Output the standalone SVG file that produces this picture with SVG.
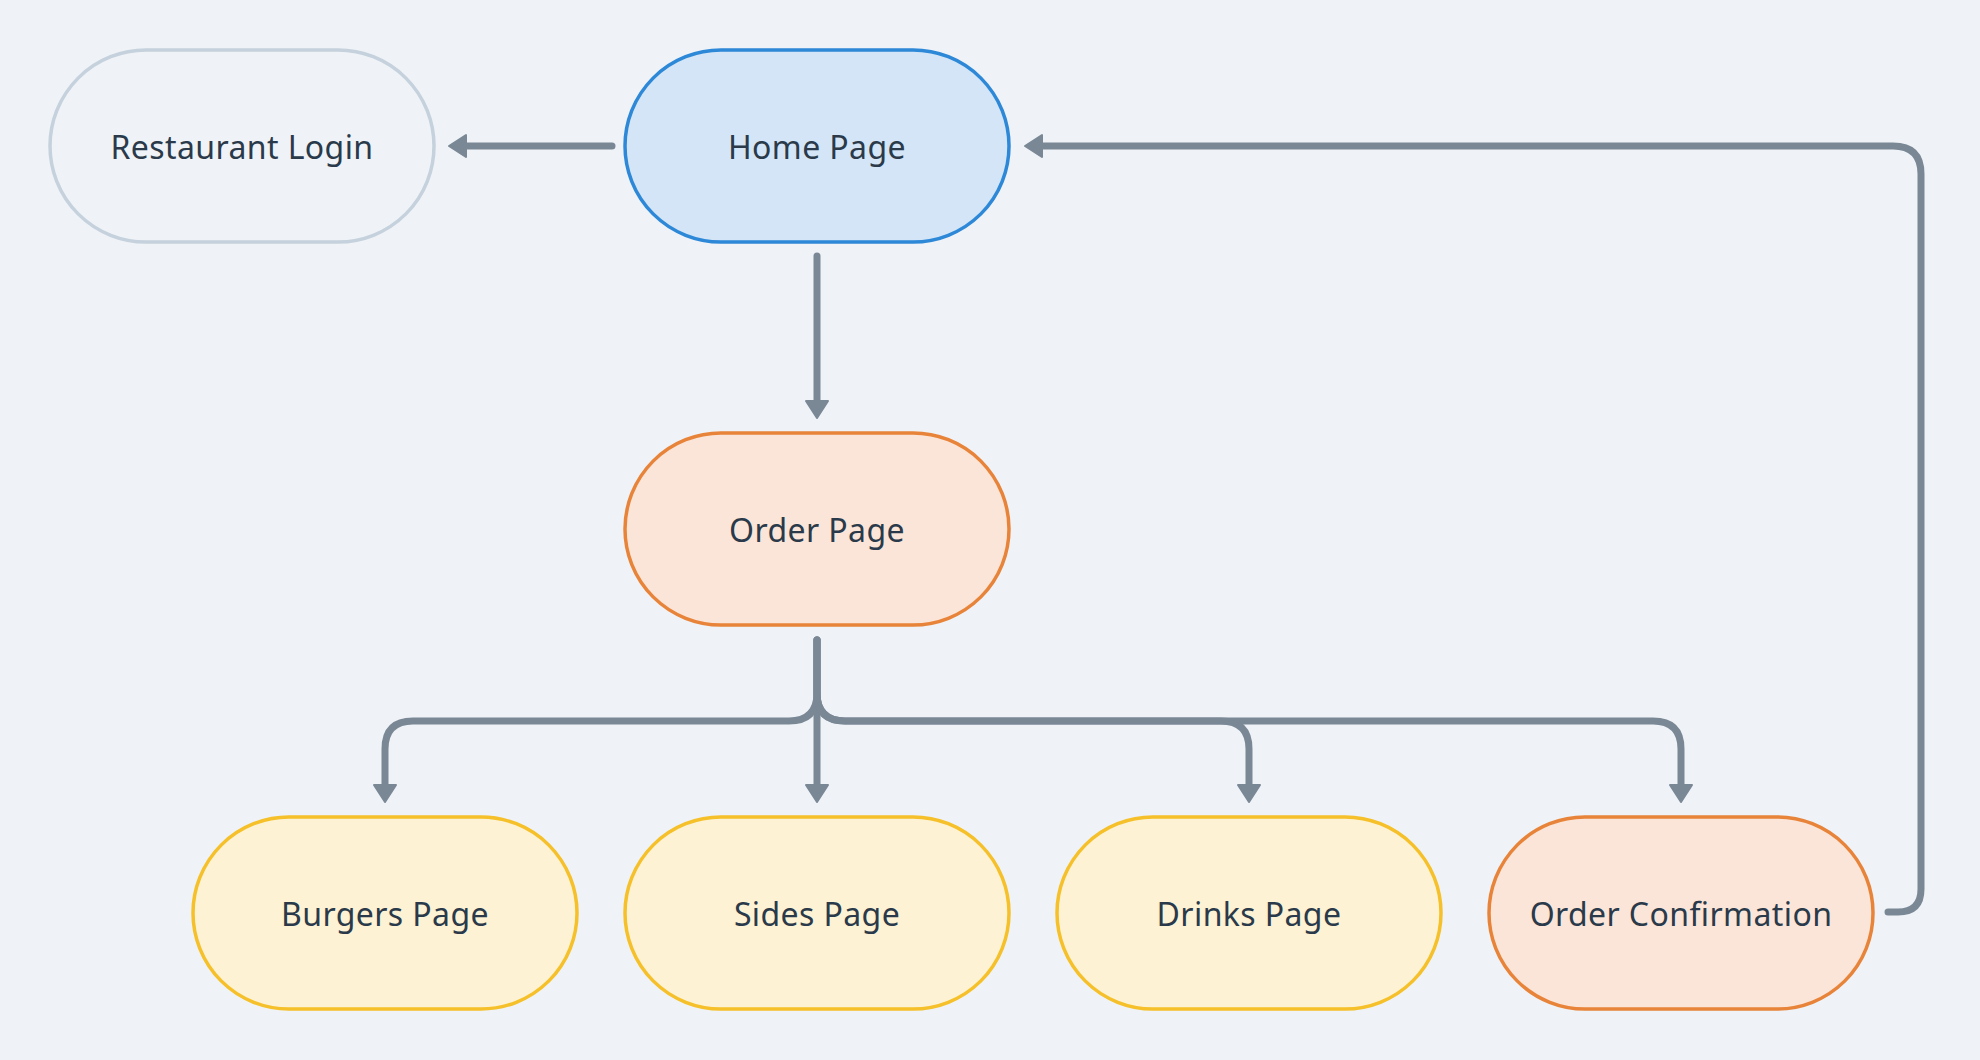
<svg xmlns="http://www.w3.org/2000/svg" width="1980" height="1060" viewBox="0 0 1980 1060">
<style>
.node rect{stroke-width:3.5}
.node text{font-family:"Noto Sans","Liberation Sans",sans-serif;font-size:32px;fill:#2a3a4a;text-anchor:middle;letter-spacing:0.4px}
.plain rect{fill:#eff3f7;stroke:#c5d1dc}
.blue rect{fill:#d3e5f6;stroke:#2e88d8}
.orange rect{fill:#fbe5d8;stroke:#e8843a}
.yellow rect{fill:#fdf2d3;stroke:#f5c02a}
#edges path{fill:none;stroke:#7a8896;stroke-width:7;stroke-linecap:round;stroke-linejoin:round;marker-end:url(#arrow)}
</style>
<defs>
<marker id="arrow" markerUnits="userSpaceOnUse" viewBox="0 0 20 26" refX="1" refY="13" markerWidth="20" markerHeight="26" orient="auto">
<path d="M1,2 L18,13 L1,24 Z" fill="#7a8896" stroke="#7a8896" stroke-width="2" stroke-linejoin="round"/>
</marker>
</defs>
<rect width="1980" height="1060" fill="#eff3f7"/>
<g id="edges">
<path d="M612,146 H466"/>
<path d="M817,256 V401"/>
<path d="M817,640 V693 Q817,721 789,721 H413 Q385,721 385,749 V785"/>
<path d="M817,640 V785"/>
<path d="M817,640 V693 Q817,721 845,721 H1221 Q1249,721 1249,749 V785"/>
<path d="M817,640 V693 Q817,721 845,721 H1653 Q1681,721 1681,749 V785"/>
<path d="M1888,912 H1898 Q1921,912 1921,889 V174 Q1921,146 1893,146 H1042"/>
</g>
<g id="restaurant-login" class="node plain"><rect x="50" y="50" width="384" height="192" rx="96"/><text x="242" y="159">Restaurant Login</text></g>
<g id="home-page" class="node blue"><rect x="625" y="50" width="384" height="192" rx="96"/><text x="817" y="159">Home Page</text></g>
<g id="order-page" class="node orange"><rect x="625" y="433" width="384" height="192" rx="96"/><text x="817" y="542">Order Page</text></g>
<g id="burgers-page" class="node yellow"><rect x="193" y="817" width="384" height="192" rx="96"/><text x="385" y="926">Burgers Page</text></g>
<g id="sides-page" class="node yellow"><rect x="625" y="817" width="384" height="192" rx="96"/><text x="817" y="926">Sides Page</text></g>
<g id="drinks-page" class="node yellow"><rect x="1057" y="817" width="384" height="192" rx="96"/><text x="1249" y="926">Drinks Page</text></g>
<g id="order-confirmation" class="node orange"><rect x="1489" y="817" width="384" height="192" rx="96"/><text x="1681" y="926">Order Confirmation</text></g>
</svg>
